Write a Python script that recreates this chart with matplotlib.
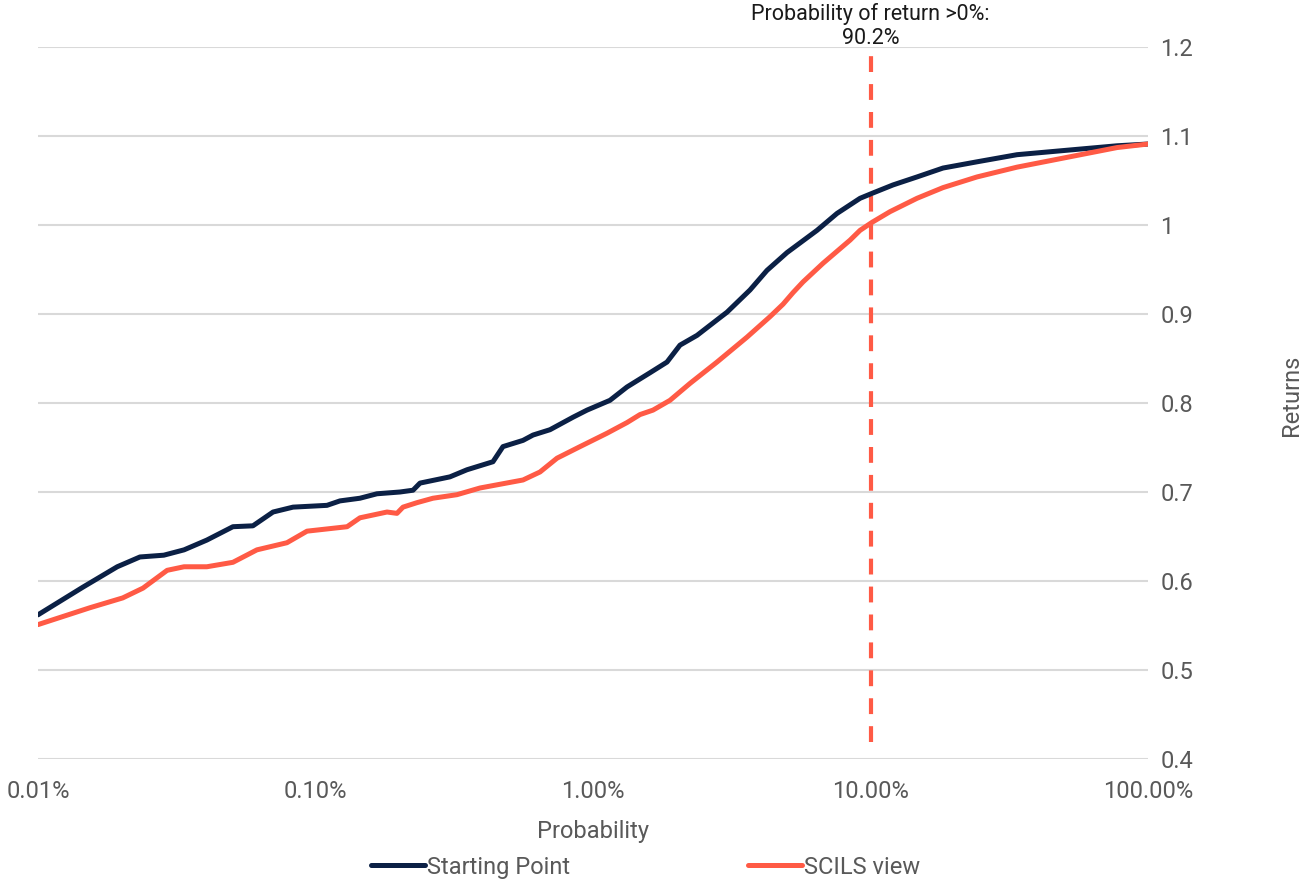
import numpy as np
import matplotlib
matplotlib.use("Agg")
import matplotlib.pyplot as plt
from matplotlib.ticker import FixedLocator, FuncFormatter, NullLocator

plt.rcParams['font.family'] = ['Roboto', 'DejaVu Sans']

# probability (%) and returns
start_prob = [0.01, 0.0145, 0.0193, 0.0233, 0.0284, 0.0336, 0.0406, 0.0504, 0.0595,
              0.0703, 0.083, 0.110, 0.1225, 0.1446, 0.1665, 0.2016, 0.2246, 0.238,
              0.305, 0.3515, 0.436, 0.4738, 0.5595, 0.608, 0.700, 0.847, 0.9515,
              1.151, 1.326, 1.605, 1.848, 2.058, 2.371, 2.869, 3.04, 3.68, 4.236,
              5.002, 6.417, 7.573, 9.17, 10.21, 12.05, 14.71, 18.25, 24.20, 33.73,
              51.06, 77.32, 100]
start_ret = [0.562, 0.593, 0.616, 0.627, 0.629, 0.635, 0.646, 0.661, 0.662,
             0.6775, 0.683, 0.685, 0.690, 0.693, 0.698, 0.700, 0.702, 0.710,
             0.717, 0.725, 0.734, 0.751, 0.758, 0.764, 0.770, 0.784, 0.792,
             0.803, 0.818, 0.834, 0.846, 0.865, 0.876, 0.896, 0.902, 0.927, 0.949,
             0.969, 0.994, 1.013, 1.030, 1.036, 1.045, 1.054, 1.064, 1.071, 1.079,
             1.084, 1.089, 1.091]

scils_prob = [0.01, 0.0154, 0.0202, 0.0239, 0.0292, 0.0336, 0.0406, 0.0504, 0.0615,
              0.0789, 0.0932, 0.130, 0.1446, 0.181, 0.1966, 0.2067, 0.232, 0.265,
              0.3236, 0.3915, 0.5595, 0.6442, 0.742, 0.898, 1.123, 1.220, 1.326,
              1.477, 1.645, 1.894, 2.236, 2.798, 3.589, 4.343, 4.839, 5.257, 5.711,
              6.744, 8.44, 9.17, 10.13, 11.76, 14.71, 18.25, 24.20, 33.73, 51.06,
              77.32, 100]
scils_ret = [0.551, 0.570, 0.581, 0.592, 0.612, 0.616, 0.616, 0.621, 0.635,
             0.643, 0.656, 0.661, 0.671, 0.6775, 0.676, 0.683, 0.688, 0.693,
             0.697, 0.7045, 0.7135, 0.7225, 0.738, 0.751, 0.766, 0.772, 0.778,
             0.787, 0.792, 0.803, 0.822, 0.846, 0.874, 0.897, 0.911, 0.924, 0.936,
             0.957, 0.983, 0.994, 1.003, 1.015, 1.030, 1.042, 1.054, 1.065, 1.076,
             1.087, 1.091]

threshold_prob = 10.0
threshold_label = "Probability of return >0%:\n90.2%"

x_ticks = [0.01, 0.1, 1, 10, 100]
y_ticks = [0.4, 0.5, 0.6, 0.7, 0.8, 0.9, 1.0, 1.1, 1.2]

navy = "#0B2045"
coral = "#FF5A45"
grey = "#595959"

fig = plt.figure(figsize=(13.04, 8.8), dpi=100)
ax = fig.add_axes([38 / 1304, 1 - 759 / 880, 1110 / 1304, 712 / 880])

ax.plot(start_prob, start_ret, color=navy, lw=3.6, label="Starting Point",
        solid_capstyle="round", solid_joinstyle="round", zorder=3)
ax.plot(scils_prob, scils_ret, color=coral, lw=3.6, label="SCILS view",
        solid_capstyle="round", solid_joinstyle="round", zorder=4)
ax.plot([threshold_prob, threshold_prob], [0.419, 1.191], color=coral, lw=3,
        dashes=(3.8, 2.9), zorder=2)
ax.text(threshold_prob, 1.198, threshold_label, ha="center", va="bottom",
        fontsize=15.5, color="#1a1a1a", linespacing=1.2)

ax.set_xscale("log")
ax.set_xlim(0.01, 100)
ax.set_ylim(0.4, 1.2)
ax.xaxis.set_major_locator(FixedLocator(x_ticks))
ax.xaxis.set_minor_locator(NullLocator())
ax.xaxis.set_major_formatter(FuncFormatter(lambda v, p: "{:.2f}%".format(v)))
ax.yaxis.set_major_locator(FixedLocator(y_ticks))
ax.yaxis.set_major_formatter(FuncFormatter(lambda v, p: "{:g}".format(round(v, 1))))
ax.yaxis.tick_right()
ax.tick_params(axis="x", length=0, pad=15, labelsize=17, labelcolor=grey)
ax.tick_params(axis="y", length=0, pad=9, labelsize=17, labelcolor=grey)

for s in ax.spines.values():
    s.set_visible(False)
ax.grid(axis="y", color="#D9D9D9", lw=1.5)
ax.set_axisbelow(True)

ax.set_xlabel("Probability", fontsize=17, color=grey, labelpad=12)
fig.text(1292 / 1304, 1 - 395 / 880, "Returns", rotation=90, ha="center",
         va="center", fontsize=17, color=grey)

fig.legend(loc="center", bbox_to_anchor=(0.495, 1 - 867 / 880), ncol=2,
           frameon=False, fontsize=17, labelcolor=grey, handlelength=2.3,
           handletextpad=0.1, columnspacing=7.5)

plt.savefig("out.png", dpi=100)
